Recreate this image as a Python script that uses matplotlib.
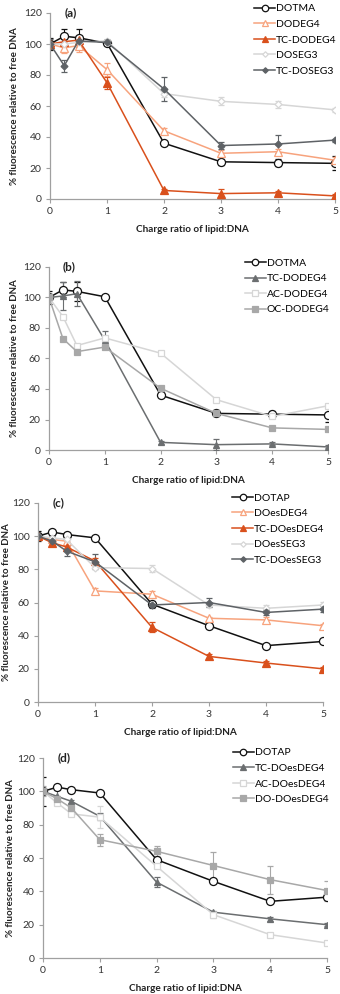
import matplotlib
matplotlib.use("Agg")
import matplotlib.pyplot as plt
from matplotlib.transforms import blended_transform_factory

plt.rcParams['font.family'] = ['Lato', 'DejaVu Sans']

ratio = [0, 0.25, 0.5, 1, 2, 3, 4, 5]

# panel (a)
a_names = ["DOTMA", "DODEG4", "TC-DODEG4", "DOSEG3", "TC-DOSEG3"]
a_vals = [
    [100, 105, 104, 100.5, 36, 24, 23.5, 23],
    [100, 97.5, 99, 83.5, 44, 29.5, 30.5, 25],
    [100, 101.5, 102.5, 75, 5.5, 3.5, 4, 2],
    [100, 100, 101, 102, 68, 63, 61, 57.5],
    [100, 86, 102, 101, 71, 34.5, 35.5, 38],
]
a_err = [
    [4, 5, 6, 1, 1, 2, 2, 4.5],
    [2, 3, 4, 4, 2, 2, 2, 2],
    [2, 2, 1, 4, 1, 3, 1, 1],
    [1, 1, 1, 1, 2, 2.5, 2.5, 1.5],
    [3, 4, 2, 1, 7.5, 2, 5.5, 1],
]

# panel (b)
b_names = ["DOTMA", "TC-DODEG4", "AC-DODEG4", "OC-DODEG4"]
b_vals = [
    [100, 105, 104, 100.5, 36, 24, 23.5, 23],
    [100, 101, 102.5, 72, 5, 3.5, 4, 2],
    [100, 87.5, 68.5, 73.5, 63.5, 33, 22, 29],
    [100, 73, 64.5, 67.5, 40.5, 24, 14.5, 13.5],
]
b_err = [
    [4, 5, 6, 1, 1, 2, 2, 4.5],
    [1, 9, 8, 6, 1, 3.5, 1, 1],
    [1, 1, 1, 1, 1, 1, 1, 1],
    [1, 1, 1, 1, 1, 1, 1, 1],
]

# panel (c)
c_names = ["DOTAP", "DOesDEG4", "TC-DOesDEG4", "DOesSEG3", "TC-DOesSEG3"]
c_vals = [
    [100, 102.5, 101, 99, 59, 46, 34, 36.5],
    [100, 98, 97, 67, 65, 50.5, 49.5, 46],
    [100, 96, 93.5, 85, 45, 27.5, 23.5, 20],
    [100, 99, 98, 81, 80.5, 58.5, 56.5, 58.5],
    [100, 97, 91, 84.5, 58.5, 60, 54, 56],
]
c_err = [
    [3, 1, 1, 1, 2, 1, 1, 1],
    [1, 1, 2, 2, 2, 1, 2, 1],
    [1, 2, 2, 2, 3, 1.5, 1, 1],
    [1, 1, 1, 1, 2, 1, 2, 2],
    [1, 3, 3, 4.5, 2, 2.5, 1.5, 2],
]

# panel (d)
d_names = ["DOTAP", "TC-DOesDEG4", "AC-DOesDEG4", "DO-DOesDEG4"]
d_vals = [
    [100, 102.5, 101, 99, 59, 46, 34, 36.5],
    [100, 97, 94, 85, 45.5, 27.5, 23.5, 20],
    [100, 93, 86.5, 84.5, 55, 26, 14, 9],
    [100, 95.5, 90, 71, 64, 55.5, 47, 40.5],
]
d_err = [
    [8.5, 1, 1, 1, 1, 1, 1, 1],
    [1, 4, 1, 2, 3, 1, 1, 1],
    [1, 1, 1, 6.5, 1, 2, 1, 1],
    [3, 2, 2, 3.5, 3, 8, 8.5, 6],
]

BLACK = dict(color="#111111", marker="o", mfc="white", ms=5.8)
LORANGE = dict(color="#F7A37D", marker="^", mfc="white", ms=5.5)
ORANGE = dict(color="#D9501C", marker="^", mfc="#D9501C", ms=5.5)
LGRAY_D = dict(color="#D6D6D6", marker="D", mfc="white", ms=3.5)
DGRAY_D = dict(color="#5E6266", marker="D", mfc="#5E6266", ms=3.5)
DGRAY_T = dict(color="#6B6E70", marker="^", mfc="#6B6E70", ms=5)
LGRAY_S = dict(color="#D6D6D6", marker="s", mfc="white", ms=5)
MGRAY_S = dict(color="#A8A8A8", marker="s", mfc="#A8A8A8", ms=5)

W, H = 340, 994


def rect(l, r, t, b):
    return [l / W, 1 - b / H, (r - l) / W, (b - t) / H]


def panel(fig, box, ylab_x, label, names, vals, errs, styles):
    ax = fig.add_axes(rect(*box))
    for name, v, e, st in zip(names, vals, errs, styles):
        ax.errorbar(ratio, v, yerr=e, color=st["color"], lw=1.1,
                    marker=st["marker"], ms=st["ms"], mfc=st["mfc"],
                    mec=st["color"], mew=0.9, ecolor=st["color"],
                    elinewidth=0.8, capsize=2.2, capthick=0.8, label=name)
    ax.set_xlim(0, 5)
    ax.set_ylim(0, 120)
    ax.set_xticks([0, 1, 2, 3, 4, 5])
    ax.set_yticks(range(0, 121, 20))
    for s in ["top", "right"]:
        ax.spines[s].set_visible(False)
    for s in ["left", "bottom"]:
        ax.spines[s].set_color("#A0A0A0")
        ax.spines[s].set_linewidth(0.9)
    ax.spines["bottom"].set_zorder(0)
    ax.tick_params(axis="both", length=3, width=0.8, color="#A0A0A0",
                   labelsize=7.5, labelcolor="#333333", pad=3)
    ax.set_xlabel("Charge ratio of lipid:DNA", fontsize=7.2, fontweight="bold",
                  color="#222222", labelpad=6)
    ax.set_ylabel("% fluorescence relative to free DNA", fontsize=7,
                  fontweight="bold", color="#222222")
    # right edge of the rotated label, in figure pixels
    ax.yaxis.set_label_coords(ylab_x / W, 0.5,
                              blended_transform_factory(fig.transFigure, ax.transAxes))
    ax.text(0.05, 1.0, label, transform=ax.transAxes, fontsize=8.5,
            fontweight="bold", va="center", ha="left", color="#222222")
    handles, labs = ax.get_legend_handles_labels()
    handles = [h[0] for h in handles]
    ax.legend(handles, labs, loc="upper right", bbox_to_anchor=(1.02, 1.07),
              frameon=False, fontsize=7.5, handlelength=2.0, handletextpad=0.1,
              labelspacing=0.6, borderaxespad=0, markerscale=0.8)
    return ax


fig = plt.figure(figsize=(W / 100, H / 100), dpi=100)

panel(fig, (50, 335, 13, 199), 19, "(a)", a_names, a_vals, a_err,
      [BLACK, LORANGE, ORANGE, LGRAY_D, DGRAY_D])
panel(fig, (49, 328, 267, 450), 19, "(b)", b_names, b_vals, b_err,
      [BLACK, DGRAY_T, LGRAY_S, MGRAY_S])
panel(fig, (38, 323, 503, 702), 11, "(c)", c_names, c_vals, c_err,
      [BLACK, LORANGE, ORANGE, LGRAY_D, DGRAY_D])
panel(fig, (43, 327, 758, 958), 15, "(d)", d_names, d_vals, d_err,
      [BLACK, DGRAY_T, LGRAY_S, MGRAY_S])

fig.savefig("out.png", dpi=100)
